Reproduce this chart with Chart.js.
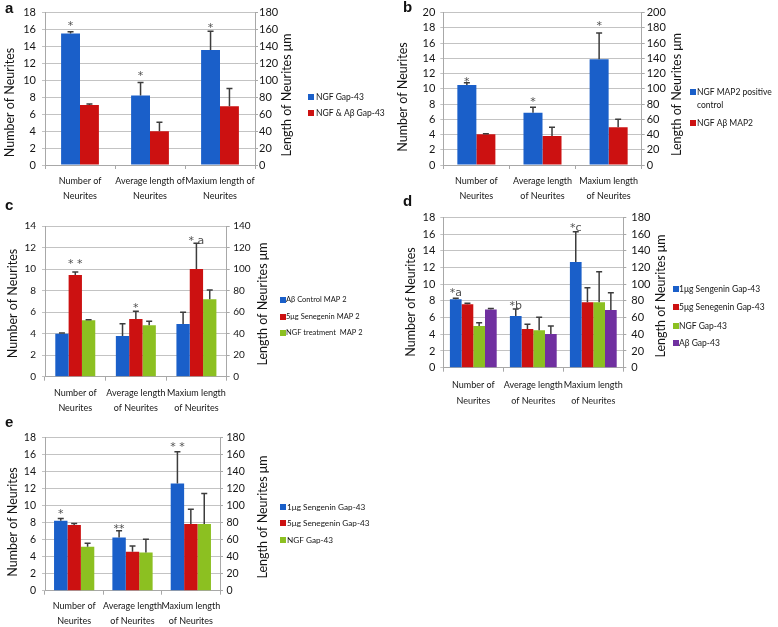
<!DOCTYPE html>
<html><head><meta charset="utf-8">
<script src="https://cdn.jsdelivr.net/npm/chart.js@4.4.0/dist/chart.umd.min.js"></script>
<style>
html,body{margin:0;padding:0;background:#fff;}
#wrap{position:relative;width:778px;height:627px;overflow:hidden;background:#fff;}
canvas{position:absolute;left:0;top:0;}
</style></head><body><div id="wrap">
<canvas id="pa" width="778" height="627"></canvas>
<canvas id="pb" width="778" height="627"></canvas>
<canvas id="pc" width="778" height="627"></canvas>
<canvas id="pd" width="778" height="627"></canvas>
<canvas id="pe" width="778" height="627"></canvas>
</div>
<script>
// ---------------- DATA ----------------
const catsA = [['Number of','Neurites'],['Average length of','Neurites'],['Maxium length of','Neurites']];
const catsRest = [['Number of','Neurites'],['Average length','of Neurites'],['Maxium length','of Neurites']];
const leftTitle = 'Number of Neurites';
const rightTitle = 'Length of Neurites \u03bcm';

// panel a
const aLabels = ['NGF Gap-43', 'NGF & A\u03b2 Gap-43'];
const aNgf = [15.55, 8.2, 13.6];
const aNgfErr = [15.75, 9.75, 15.8];
const aNgfAb = [7.1, 4.0, 6.95];
const aNgfAbErr = [7.2, 5.05, 9.05];
const aMarks = [[0, 0, 16.8, '*'], [1, 0, 10.9, '*'], [2, 0, 16.55, '*']];
const aLeftAxis = [0, 18, 2];
const aRightAxis = [0, 180, 20];

// panel b
const bLabels = ['NGF MAP2 positive control', 'NGF A\u03b2 MAP2'];
const bNgf = [10.5, 6.87, 13.9];
const bNgfErr = [10.8, 7.58, 17.35];
const bNgfAb = [4.05, 3.8, 4.95];
const bNgfAbErr = [4.12, 4.95, 6.02];
const bMarks = [[0, 0, 11.35, '*'], [1, 0, 8.7, '*'], [2, 0, 18.6, '*']];
const bLeftAxis = [0, 20, 2];
const bRightAxis = [0, 200, 20];

// panel c
const cLabels = ['A\u03b2 Control MAP 2', '5\u03bcg Senegenin MAP 2', 'NGF treatment  MAP 2'];
const cAbControl = [4.0, 3.78, 4.9];
const cAbControlErr = [4.05, 4.93, 5.98];
const cSen5 = [9.45, 5.36, 10.0];
const cSen5Err = [9.72, 6.08, 12.4];
const cNgf = [5.24, 4.78, 7.2];
const cNgfErr = [5.3, 5.15, 8.06];
const cMarks = [[0, 1, 10.75, '* *'], [1, 1, 6.7, '*'], [2, 1, 12.9, '* a']];
const cLeftAxis = [0, 14, 2];
const cRightAxis = [0, 140, 20];

// panel d
const dLabels = ['1\u03bcg Sengenin Gap-43', '5\u03bcg Senegenin Gap-43', 'NGF Gap-43', 'A\u03b2 Gap-43'];
const dSen1 = [8.18, 6.19, 12.65];
const dSen1Err = [8.3, 7.02, 16.28];
const dSen5 = [7.58, 4.63, 7.82];
const dSen5Err = [7.7, 5.19, 9.58];
const dNgf = [4.99, 4.47, 7.82];
const dNgfErr = [5.39, 6.03, 11.49];
const dAb = [6.98, 4.03, 6.9];
const dAbErr = [7.1, 4.99, 8.98];
const dMarks = [[0, 0, 9.3, '*a'], [1, 0, 7.7, '*b'], [2, 0, 17.1, '*c']];
const dLeftAxis = [0, 18, 2];
const dRightAxis = [0, 180, 20];

// panel e
const eLabels = ['1\u03bcg Sengenin Gap-43', '5\u03bcg Senegenin Gap-43', 'NGF Gap-43'];
const eSen1 = [8.24, 6.27, 12.6];
const eSen1Err = [8.5, 7.06, 16.35];
const eSen5 = [7.73, 4.59, 7.84];
const eSen5Err = [7.9, 5.25, 9.57];
const eNgf = [5.18, 4.5, 7.84];
const eNgfErr = [5.57, 6.04, 11.45];
const eMarks = [[0, 0, 9.4, '*'], [1, 0, 7.65, '**'], [2, 0, 17.3, '* *']];
const eLeftAxis = [0, 18, 2];
const eRightAxis = [0, 180, 20];

// ---------------- STYLE ----------------
const BLUE = '#1a5fc9', RED = '#cc1111', GREEN = '#8cc021', PURPLE = '#7030a0';
const TXT = '#151515', GRID = '#c3c3c3', AXIS = '#a8a8a8';
const FONT = 'Lato, "Open Sans", sans-serif';

const deco = {
  id: 'deco',
  afterDatasetsDraw(chart, args, o) {
    const ctx = chart.ctx, ys = chart.scales.y;
    ctx.save();
    ctx.strokeStyle = '#3c3c3c';
    ctx.lineWidth = 1.5;
    chart.data.datasets.forEach((ds, i) => {
      const meta = chart.getDatasetMeta(i);
      meta.data.forEach((bar, j) => {
        const top = ys.getPixelForValue(ds.errTop[j]);
        ctx.beginPath();
        ctx.moveTo(bar.x, bar.y);
        ctx.lineTo(bar.x, top);
        ctx.moveTo(bar.x - 3, top);
        ctx.lineTo(bar.x + 3, top);
        ctx.stroke();
      });
    });
    ctx.fillStyle = '#505050';
    ctx.font = '11px "DejaVu Sans", sans-serif';
    ctx.textAlign = 'center';
    ctx.textBaseline = 'alphabetic';
    o.marks.forEach(m => {
      const bar = chart.getDatasetMeta(m[1]).data[m[0]];
      ctx.fillText(m[3], bar.x, ys.getPixelForValue(m[2]) + 6);
    });
    ctx.restore();
  },
  afterDraw(chart, args, o) {
    const ctx = chart.ctx;
    ctx.save();
    // panel letter
    ctx.fillStyle = '#111';
    ctx.font = 'bold 15px "Liberation Sans", sans-serif';
    ctx.textAlign = 'left';
    ctx.textBaseline = 'middle';
    ctx.fillText(o.letter[0], o.letter[1], o.letter[2]);
    // axis titles
    ctx.font = o.titleFont + 'px ' + FONT;
    ctx.fillStyle = TXT;
    ctx.textAlign = 'center';
    [[leftTitle, o.lt], [rightTitle, o.rt]].forEach(([t, p]) => {
      ctx.save();
      ctx.translate(p[0], p[1]);
      ctx.rotate(-Math.PI / 2);
      ctx.fillText(t, 0, 0);
      ctx.restore();
    });
    // legend
    ctx.font = o.legFont + 'px ' + FONT;
    ctx.textAlign = 'left';
    ctx.textBaseline = 'middle';
    chart.data.datasets.forEach((ds, i) => {
      let y = o.leg.rows[i];
      ctx.fillStyle = ds.backgroundColor;
      ctx.fillRect(o.leg.bx, y - 3, 6, 6);
      ctx.fillStyle = TXT;
      const words = ds.label.split(' ');
      let line = '';
      words.forEach(w => {
        const test = line ? line + ' ' + w : w;
        if (line && ctx.measureText(test).width > o.leg.wrap) {
          ctx.fillText(line, o.leg.tx, y);
          y += o.leg.step;
          line = w;
        } else line = test;
      });
      ctx.fillText(line, o.leg.tx, y);
    });
    ctx.restore();
  }
};

function makePanel(id, cats, sets, leftAxis, rightAxis, marks, lay) {
  const WL = 40, WR = 30, HX = 36;
  const tickFont = {family: FONT, size: lay.tickFont};
  new Chart(document.getElementById(id), {
    type: 'bar',
    data: {
      labels: cats,
      datasets: sets.map(s => ({
        label: s[0], data: s[1], errTop: s[2], backgroundColor: s[3],
        borderWidth: 0, yAxisID: 'y',
        categoryPercentage: lay.catPct, barPercentage: 1
      }))
    },
    plugins: [deco],
    options: {
      responsive: false, animation: false, events: [],
      devicePixelRatio: 1,
      layout: {padding: {left: lay.L - WL, right: 778 - lay.R - WR, top: lay.T, bottom: Math.max(0, 627 - lay.B - HX)}},
      plugins: {
        legend: {display: false}, tooltip: {enabled: false},
        deco: {marks: marks, letter: lay.letter, lt: lay.lt, rt: lay.rt, leg: lay.leg,
               titleFont: lay.titleFont, legFont: lay.legFont}
      },
      scales: {
        x: {
          afterFit: s => { s.height = HX; },
          grid: {display: true, drawOnChartArea: false, drawTicks: true, tickLength: 4, color: AXIS, offset: true},
          border: {display: true, color: AXIS, width: 1},
          ticks: {color: TXT, padding: lay.xPad, maxRotation: 0, minRotation: 0, autoSkip: false,
                  font: {family: FONT, size: lay.catFont, lineHeight: lay.lineH + 'px'}}
        },
        y: {
          position: 'left', min: leftAxis[0], max: leftAxis[1],
          afterFit: s => { s.width = WL; },
          grid: {color: GRID, lineWidth: 1, drawTicks: true, tickLength: 3},
          border: {display: true, color: AXIS},
          ticks: {stepSize: leftAxis[2], autoSkip: false, color: TXT, padding: lay.lPad, font: tickFont}
        },
        y2: {
          position: 'right', min: rightAxis[0], max: rightAxis[1],
          afterFit: s => { s.width = WR; },
          grid: {drawOnChartArea: false, drawTicks: true, tickLength: 3, color: AXIS},
          border: {display: true, color: AXIS},
          ticks: {stepSize: rightAxis[2], autoSkip: false, color: TXT, padding: lay.rPad, font: tickFont}
        }
      }
    }
  });
}

makePanel('pa', catsA,
  [[aLabels[0], aNgf, aNgfErr, BLUE], [aLabels[1], aNgfAb, aNgfAbErr, RED]],
  aLeftAxis, aRightAxis, aMarks,
  {L: 45, R: 255, T: 12.7, B: 165, catPct: 0.54, xPad: 5, lineH: 15, lPad: 6, rPad: 1,
   tickFont: 11, catFont: 9, titleFont: 12.5, legFont: 8.5,
   letter: ['a', 5, 9], lt: [10, 102.5], rt: [287, 95],
   leg: {bx: 308, tx: 316, rows: [97, 113], step: 13, wrap: 200}});

makePanel('pb', catsRest,
  [[bLabels[0], bNgf, bNgfErr, BLUE], [bLabels[1], bNgfAb, bNgfAbErr, RED]],
  bLeftAxis, bRightAxis, bMarks,
  {L: 443.3, R: 641.7, T: 12.7, B: 165, catPct: 0.575, xPad: 5, lineH: 15, lPad: 5, rPad: 2,
   tickFont: 11, catFont: 9, titleFont: 12.5, legFont: 8.5,
   letter: ['b', 403, 8], lt: [403, 97], rt: [677, 94.5],
   leg: {bx: 690, tx: 697, rows: [92, 123], step: 13, wrap: 80}});

makePanel('pc', catsRest,
  [[cLabels[0], cAbControl, cAbControlErr, BLUE], [cLabels[1], cSen5, cSen5Err, RED], [cLabels[2], cNgf, cNgfErr, GREEN]],
  cLeftAxis, cRightAxis, cMarks,
  {L: 45, R: 226.7, T: 226, B: 376.7, catPct: 0.66, xPad: 5, lineH: 15, lPad: 6, rPad: 3.5,
   tickFont: 10, catFont: 9, titleFont: 12.5, legFont: 7.5,
   letter: ['c', 5, 206], lt: [13, 303.5], rt: [263, 304],
   leg: {bx: 280, tx: 286, rows: [300, 317, 333], step: 13, wrap: 200}});

makePanel('pd', catsRest,
  [[dLabels[0], dSen1, dSen1Err, BLUE], [dLabels[1], dSen5, dSen5Err, RED], [dLabels[2], dNgf, dNgfErr, GREEN], [dLabels[3], dAb, dAbErr, PURPLE]],
  dLeftAxis, dRightAxis, dMarks,
  {L: 443.3, R: 623.3, T: 217.3, B: 367.7, catPct: 0.78, xPad: 5, lineH: 16.5, lPad: 5, rPad: 5,
   tickFont: 11, catFont: 9, titleFont: 12.5, legFont: 8.5,
   letter: ['d', 403, 202], lt: [411, 302], rt: [661, 296],
   leg: {bx: 673, tx: 679, rows: [289, 307, 326, 343], step: 13, wrap: 200}});

makePanel('pe', catsRest,
  [[eLabels[0], eSen1, eSen1Err, BLUE], [eLabels[1], eSen5, eSen5Err, RED], [eLabels[2], eNgf, eNgfErr, GREEN]],
  eLeftAxis, eRightAxis, eMarks,
  {L: 45, R: 220, T: 437.7, B: 590.7, catPct: 0.69, xPad: 4, lineH: 15, lPad: 6, rPad: 3.5,
   tickFont: 10.5, catFont: 9, titleFont: 12.5, legFont: 8.2,
   letter: ['e', 5, 423], lt: [13, 522], rt: [263, 517],
   leg: {bx: 280, tx: 287, rows: [507, 523, 540], step: 13, wrap: 200}});
</script>
</body></html>
